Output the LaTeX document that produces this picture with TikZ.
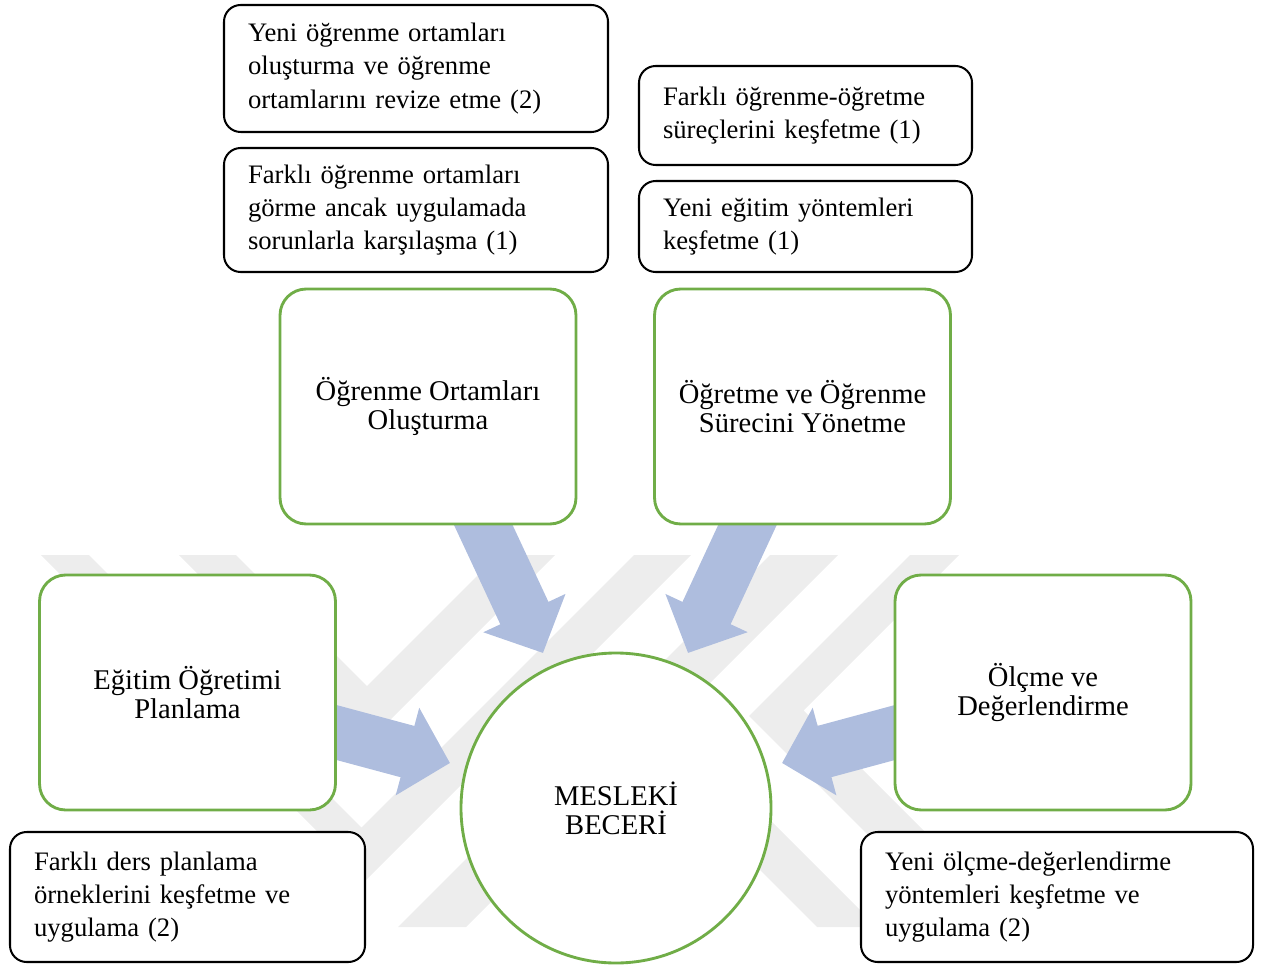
\documentclass[tikz,border=0pt]{standalone}
\usepackage{fontspec}
\setmainfont{Liberation Serif}
\usetikzlibrary{arrows.meta,backgrounds}

\definecolor{leafgreen}{RGB}{112,173,71}
\definecolor{flowblue}{RGB}{174,189,222}
\definecolor{markgray}{RGB}{237,237,237}

\tikzset{
    note/.style={rectangle, rounded corners=7pt, draw=black, line width=0.85pt,
        fill=white, align=left, inner xsep=10.08pt, inner ysep=0pt,
        font=\fontsize{11.2}{13.9}\selectfont},
    area/.style={rectangle, rounded corners=11pt, draw=leafgreen, line width=1.2pt,
        fill=white, align=center, minimum width=124.3pt, minimum height=98.7pt,
        font=\fontsize{12}{12.2}\selectfont},
    flow/.style={draw=flowblue, line width=22.3pt,
        -{Triangle[length=18.5pt, width=37pt]}},
}

\begin{document}
\begin{tikzpicture}[x=0.42pt, y=-0.42pt]
    \useasboundingbox (0,0) rectangle (1267,967);

    % 1. The skill in the middle
    \node[area, circle, minimum size=130.2pt] (skill) at (616,808) {MESLEKİ\\BECERİ};

    % 2. The four competence areas
    \foreach \name/\x/\y/\txt in {
        learn/428/406.5/{Öğrenme Ortamları\\Oluşturma},
        teach/802.5/406.5/{Öğretme ve Öğrenme\\Sürecini Yönetme},
        plan/187.5/692.5/{Eğitim Öğretimi\\Planlama},
        assess/1043/692.5/{Ölçme ve\\Değerlendirme}%
    } {
        \node[area] (\name) at (\x,\y) {\txt};
    }

    % 3. Notes with the counts
    \foreach \name/\x/\y/\w/\h/\txt in {
        learnA/416/68.5/384/127/{Yeni öğrenme ortamları\\oluşturma ve öğrenme\\ortamlarını revize etme (2)},
        learnB/416/210/384/124/{Farklı öğrenme ortamları\\görme ancak uygulamada\\sorunlarla karşılaşma (1)},
        teachA/805.5/115.5/333/99/{Farklı öğrenme-öğretme\\süreçlerini keşfetme (1)},
        teachB/805.5/226.5/333/91/{Yeni eğitim yöntemleri\\keşfetme (1)},
        planA/187.5/897/355/130/{Farklı ders planlama\\örneklerini keşfetme ve\\uygulama (2)},
        assessA/1057/897/392/130/{Yeni ölçme-değerlendirme\\yöntemleri keşfetme ve\\uygulama (2)}%
    } {
        \pgfmathsetmacro\tw{(\w-48)*0.42}
        \pgfmathsetmacro\bh{\h*0.42}
        \node[note, text width=\tw pt, minimum height=\bh pt] (\name) at (\x,\y) {\txt};
    }

    % 4. Faint watermark and block arrows behind everything
    \begin{scope}[on background layer]
        \fill[markgray] (41,555) -- (89,555) -- (361.5,827.5) -- (634,555) -- (691,555) -- (366,880) -- cycle;
        \fill[markgray] (179,555) -- (236,555) -- (367,686) -- (498,555) -- (555,555) -- (367,743) -- cycle;
        \fill[markgray] (770,555) -- (838,555) -- (466,927) -- (398,927) -- cycle;
        \fill[markgray] (590,700) -- (650,700) -- (877,927) -- (817,927) -- cycle;
        \fill[markgray] (910,555) -- (959,555) -- (803.5,710.5) -- (1020,927) -- (960,927) -- (749,716) -- cycle;

        \coordinate (learnTip) at (543,653);
        \coordinate (teachTip) at (688,653);
        \coordinate (planTip) at (450,763);
        \coordinate (assessTip) at (782,763);
        \foreach \src in {learn, teach, plan, assess} {
            \draw[flow] (\src.center) -- (\src Tip);
        }
    \end{scope}

\end{tikzpicture}
\end{document}
